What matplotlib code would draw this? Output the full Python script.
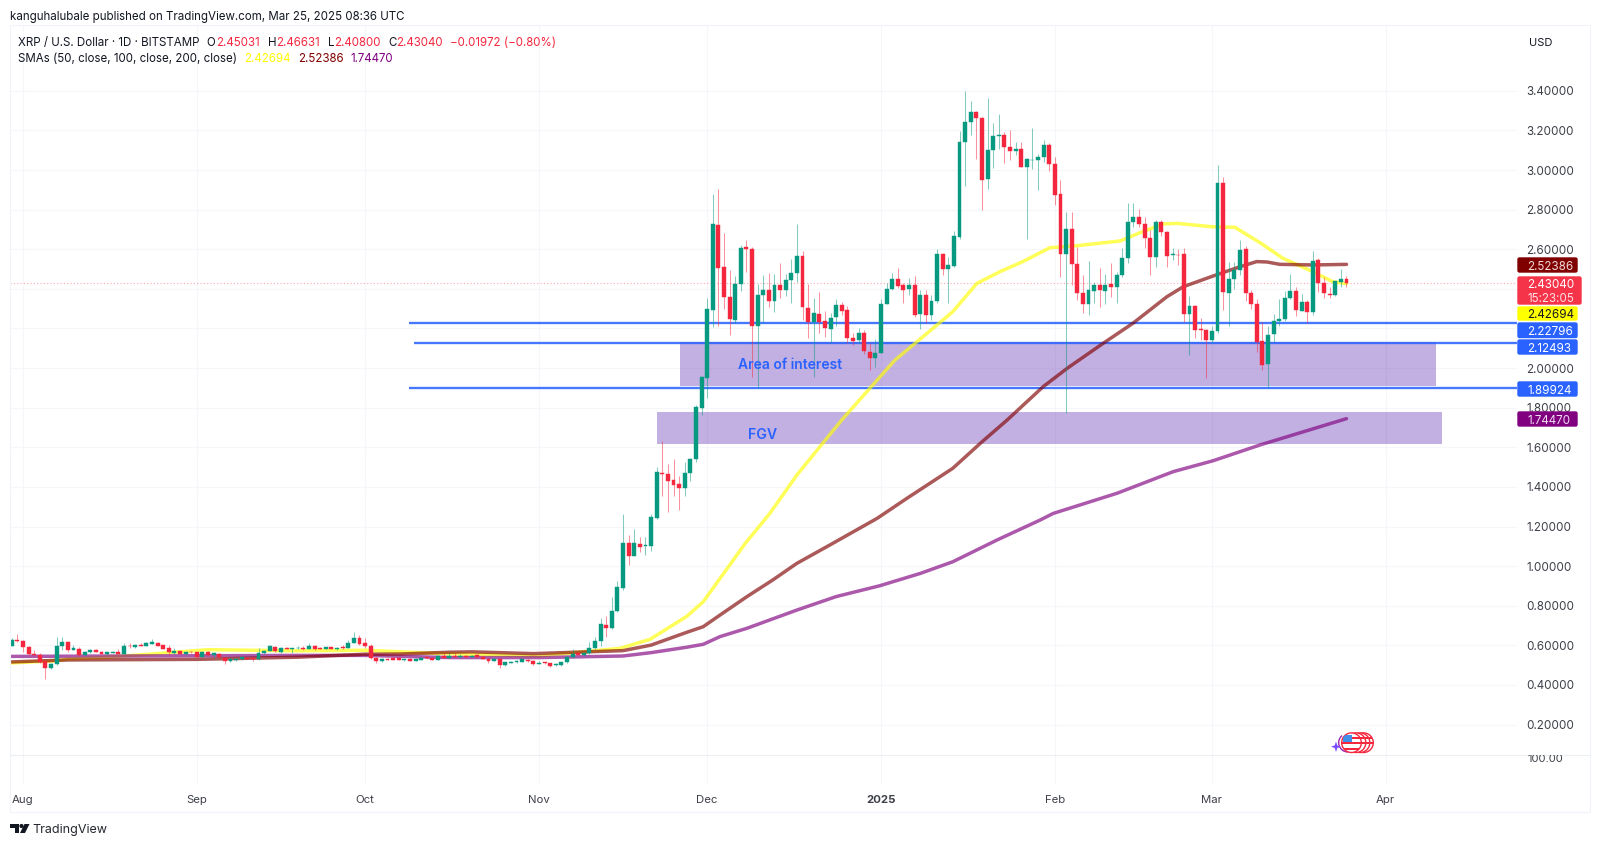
import matplotlib
matplotlib.use('Agg')
import matplotlib.pyplot as plt
import matplotlib.dates as mdates
from matplotlib.patches import Rectangle, Circle, Polygon, FancyBboxPatch, Wedge
import numpy as np
import pandas as pd

plt.rcParams['font.family'] = ['Inter', 'DejaVu Sans']

# daily candles, XRP / USD, first bar Jul 30 2024
first_day = '2024-07-30'
opens = [
    .598, .627, .623, .593, .556, .553, .522, .484, .504, .596,
    .617, .576, .581, .551, .565, .576, .568, .556, .563, .568,
    .558, .598, .590, .601, .596, .608, .612, .600, .585, .563,
    .570, .558, .568, .565, .543, .568, .551, .558, .538, .521,
    .526, .529, .538, .538, .529, .559, .573, .593, .568, .588,
    .583, .585, .588, .583, .596, .588, .581, .591, .581, .590,
    .586, .612, .639, .612, .595, .538, .519, .532, .534, .536,
    .526, .531, .522, .527, .539, .538, .527, .548, .538, .548,
    .541, .546, .543, .549, .543, .531, .522, .529, .499, .512,
    .514, .517, .527, .521, .507, .514, .509, .499, .500, .514,
    .539, .559, .549, .559, .585, .620, .704, .687, .771, .889,
    1.118, 1.051, 1.112, 1.100, 1.101, 1.244, 1.472, 1.467, 1.435, 1.413,
    1.394, 1.470, 1.541, 1.797, 1.952, 2.293, 2.723, 2.512, 2.359, 2.241,
    2.425, 2.612, 2.603, 2.213, 2.369, 2.396, 2.337, 2.418, 2.394, 2.445,
    2.482, 2.564, 2.304, 2.234, 2.273, 2.238, 2.196, 2.258, 2.319, 2.292,
    2.150, 2.140, 2.179, 2.083, 2.053, 2.078, 2.325, 2.398, 2.452, 2.418,
    2.398, 2.418, 2.271, 2.369, 2.270, 2.339, 2.575, 2.500, 2.517, 2.664,
    3.140, 3.241, 3.292, 3.262, 2.953, 3.100, 3.174, 3.179, 3.117, 3.095,
    3.105, 3.016, 3.049, 3.051, 3.068, 3.128, 3.031, 2.879, 2.576, 2.703,
    2.526, 2.378, 2.322, 2.391, 2.421, 2.391, 2.425, 2.411, 2.472, 2.556,
    2.736, 2.763, 2.728, 2.657, 2.560, 2.740, 2.687, 2.570, 2.573, 2.575,
    2.273, 2.315, 2.198, 2.192, 2.142, 2.189, 2.933, 2.381, 2.450, 2.495,
    2.600, 2.381, 2.324, 2.135, 2.019, 2.172, 2.236, 2.248, 2.354, 2.391,
    2.290, 2.334, 2.283, 2.546, 2.428, 2.374, 2.368, 2.435, 2.45031,
]
highs = [
    .637, .657, .627, .596, .576, .559, .526, .509, .644, .640,
    .623, .601, .590, .573, .581, .581, .573, .568, .573, .580,
    .610, .610, .605, .610, .617, .630, .615, .603, .601, .585,
    .573, .570, .571, .568, .570, .571, .568, .561, .543, .534,
    .534, .543, .541, .541, .588, .576, .601, .598, .593, .593,
    .588, .596, .595, .610, .603, .593, .593, .593, .593, .601,
    .627, .665, .652, .635, .607, .543, .536, .536, .538, .539,
    .538, .534, .536, .541, .543, .541, .551, .563, .559, .559,
    .554, .551, .553, .556, .546, .534, .534, .532, .517, .521,
    .524, .532, .531, .524, .521, .517, .512, .511, .518, .545,
    .580, .565, .563, .618, .640, .736, .748, .846, .925, 1.261,
    1.159, 1.186, 1.147, 1.149, 1.263, 1.502, 1.630, 1.516, 1.539, 1.455,
    1.524, 1.545, 1.814, 1.960, 2.352, 2.878, 2.905, 2.684, 2.495, 2.465,
    2.622, 2.647, 2.610, 2.425, 2.470, 2.482, 2.475, 2.530, 2.473, 2.549,
    2.726, 2.591, 2.425, 2.352, 2.383, 2.288, 2.277, 2.347, 2.336, 2.314,
    2.176, 2.201, 2.192, 2.125, 2.147, 2.347, 2.432, 2.479, 2.504, 2.428,
    2.453, 2.465, 2.394, 2.394, 2.367, 2.602, 2.580, 2.559, 2.694, 3.198,
    3.400, 3.349, 3.299, 3.270, 3.362, 3.240, 3.283, 3.191, 3.203, 3.144,
    3.144, 3.060, 3.211, 3.081, 3.152, 3.135, 3.068, 2.950, 2.787, 2.790,
    2.613, 2.470, 2.541, 2.437, 2.507, 2.474, 2.529, 2.487, 2.605, 2.836,
    2.832, 2.802, 2.765, 2.698, 2.748, 2.748, 2.694, 2.608, 2.600, 2.608,
    2.364, 2.319, 2.253, 2.196, 2.213, 3.026, 2.967, 2.534, 2.534, 2.647,
    2.617, 2.394, 2.347, 2.234, 2.213, 2.273, 2.347, 2.391, 2.475, 2.408,
    2.374, 2.344, 2.591, 2.554, 2.462, 2.411, 2.442, 2.500, 2.46631,
]
lows = [
    .596, .618, .568, .551, .546, .512, .430, .480, .500, .576,
    .566, .576, .546, .549, .563, .565, .556, .553, .559, .554,
    .556, .588, .588, .596, .595, .607, .596, .581, .551, .556,
    .554, .554, .559, .541, .539, .548, .538, .538, .504, .517,
    .522, .528, .529, .522, .526, .558, .570, .568, .563, .580,
    .559, .580, .576, .581, .576, .580, .580, .580, .575, .581,
    .585, .610, .601, .585, .531, .509, .516, .524, .526, .524,
    .522, .519, .521, .526, .532, .524, .526, .534, .536, .538,
    .538, .539, .539, .538, .529, .512, .521, .487, .497, .509,
    .512, .516, .516, .502, .504, .507, .489, .495, .497, .512,
    .537, .549, .547, .556, .582, .598, .640, .684, .769, .879,
    1.004, 1.049, 1.070, 1.056, 1.078, 1.240, 1.354, 1.273, 1.354, 1.283,
    1.352, 1.431, 1.524, 1.763, 1.847, 2.209, 2.213, 2.300, 2.167, 2.226,
    2.389, 2.487, 1.957, 1.898, 2.229, 2.310, 2.285, 2.352, 2.364, 2.330,
    2.436, 2.243, 2.150, 1.957, 2.176, 2.159, 2.125, 2.213, 2.268, 2.125,
    2.117, 2.125, 2.071, 1.990, 2.007, 2.075, 2.322, 2.394, 2.403, 2.327,
    2.369, 2.260, 2.197, 2.229, 2.243, 2.327, 2.468, 2.327, 2.512, 2.650,
    2.920, 3.177, 3.056, 2.799, 2.905, 3.012, 3.105, 3.038, 3.051, 3.076,
    3.014, 2.650, 3.004, 2.900, 3.043, 2.997, 2.824, 2.462, 1.772, 2.420,
    2.344, 2.277, 2.268, 2.327, 2.310, 2.324, 2.361, 2.327, 2.462, 2.533,
    2.714, 2.714, 2.605, 2.470, 2.512, 2.669, 2.509, 2.546, 2.521, 2.235,
    2.065, 2.150, 2.142, 1.948, 2.129, 2.176, 2.294, 2.213, 2.398, 2.470,
    2.341, 2.297, 2.083, 1.990, 1.898, 2.130, 2.213, 2.238, 2.351, 2.265,
    2.287, 2.226, 2.268, 2.386, 2.356, 2.356, 2.364, 2.411, 2.408,
]
closes = [
    .627, .622, .593, .556, .553, .517, .484, .506, .598, .617,
    .576, .585, .551, .568, .576, .566, .558, .565, .566, .556,
    .598, .595, .601, .598, .610, .615, .598, .583, .565, .571,
    .556, .566, .565, .543, .566, .551, .559, .541, .521, .529,
    .531, .539, .533, .531, .559, .573, .596, .570, .585, .583,
    .585, .588, .583, .598, .583, .583, .591, .581, .588, .586,
    .613, .639, .608, .595, .538, .519, .532, .527, .527, .527,
    .532, .522, .532, .538, .534, .527, .548, .538, .548, .541,
    .546, .543, .548, .543, .531, .522, .531, .500, .514, .517,
    .521, .529, .519, .505, .511, .511, .497, .507, .514, .541,
    .556, .553, .559, .588, .623, .706, .687, .773, .893, 1.118,
    1.051, 1.115, 1.098, 1.106, 1.246, 1.475, 1.467, 1.430, 1.410, 1.394,
    1.472, 1.543, 1.804, 1.953, 2.297, 2.726, 2.507, 2.361, 2.246, 2.425,
    2.608, 2.602, 2.214, 2.371, 2.394, 2.339, 2.421, 2.394, 2.445, 2.482,
    2.564, 2.310, 2.233, 2.277, 2.233, 2.201, 2.255, 2.319, 2.288, 2.150,
    2.138, 2.179, 2.086, 2.051, 2.076, 2.324, 2.398, 2.452, 2.415, 2.396,
    2.418, 2.266, 2.371, 2.270, 2.339, 2.575, 2.500, 2.521, 2.667, 3.140,
    3.243, 3.292, 3.262, 2.950, 3.102, 3.172, 3.178, 3.115, 3.097, 3.105,
    3.017, 3.055, 3.053, 3.066, 3.127, 3.031, 2.874, 2.576, 2.703, 2.524,
    2.378, 2.326, 2.396, 2.418, 2.394, 2.421, 2.411, 2.470, 2.556, 2.736,
    2.763, 2.728, 2.657, 2.560, 2.736, 2.687, 2.568, 2.575, 2.570, 2.273,
    2.315, 2.192, 2.194, 2.142, 2.189, 2.933, 2.384, 2.450, 2.495, 2.596,
    2.381, 2.324, 2.134, 2.016, 2.165, 2.236, 2.248, 2.354, 2.391, 2.293,
    2.336, 2.283, 2.541, 2.428, 2.378, 2.368, 2.438, 2.448, 2.43040,
]

# moving averages, days counted from Aug 1 2024
sma50_days = [-2, 6, 8, 14, 21.4, 33, 49, 61, 74, 92, 106.5, 111.8, 118.3, 121.3, 124.3, 128.8, 133.2,
              138, 142.1, 146, 151, 155.5, 159.4, 165.8, 170.1, 174.2, 178.3, 183.1, 187.9, 195.6,
              199.2, 203.3, 205.8, 212, 216.1, 220.6, 224.7, 230, 233.6, 236]
sma50_vals = [.511, .522, .531, .538, .553, .578, .572, .575, .559, .546, .585, .630, .745, .820, .938, 1.115, 1.267,
              1.460, 1.603, 1.738, 1.898, 2.041, 2.133, 2.285, 2.428, 2.487, 2.538, 2.608, 2.618, 2.642,
              2.684, 2.728, 2.731, 2.714, 2.711, 2.633, 2.554, 2.487, 2.436, 2.42694]
sma100_days = [-2, 8, 31, 49, 61, 67.4, 76, 80, 91, 107, 112, 118.3, 121.3, 124.3, 129.1, 133.7, 138, 143.9,
               152.3, 157.6, 165.8, 170.7, 175.5, 181.9, 186.2, 192.6, 197.9, 204, 206.9, 212.2, 217, 220,
               221.8, 224.1, 230, 236]
sma100_vals = [.516, .526, .529, .540, .555, .556, .565, .567, .558, .573, .601, .665, .694, .753, .846, .930, 1.014, 1.107,
               1.241, 1.342, 1.494, 1.620, 1.738, 1.906, 1.999, 2.125, 2.226, 2.361, 2.411, 2.465, 2.512, 2.538,
               2.536, 2.524, 2.521, 2.52386]
sma200_days = [-2, 49, 61, 76, 92, 107, 112, 118.3, 121.3, 124.3, 129.1, 138, 145, 152.8, 160, 165.8, 173.7, 181.4,
               183.7, 195.1, 205.1, 212.2, 220.6, 236]
sma200_vals = [.544, .549, .549, .538, .538, .546, .563, .590, .605, .644, .686, .778, .846, .901, .963, 1.022, 1.132, 1.233,
               1.266, 1.368, 1.477, 1.532, 1.612, 1.74470]

# levels and zones drawn on the chart
levels = [2.22796, 2.12493, 1.89924]
level_starts = ['2024-10-08 18:00', '2024-10-09 18:00', '2024-10-08 18:00']
area_zone = ['2024-11-26 05:00', '2025-04-10 00:00', 1.911, 2.134]
fgv_zone = ['2024-11-22 03:00', '2025-04-11 00:00', 1.617, 1.778]

last_price = 2.43040
sma_last = [2.42694, 2.52386, 1.74470]
price_ticks = [0.2, 0.4, 0.6, 0.8, 1.0, 1.2, 1.4, 1.6, 1.8, 2.0, 2.2, 2.4, 2.6, 2.8, 3.0, 3.2, 3.4]
month_dates = ['2024-08-01', '2024-09-01', '2024-10-01', '2024-11-01', '2024-12-01',
               '2025-01-01', '2025-02-01', '2025-03-01', '2025-04-01']
month_labels = ['Aug', 'Sep', 'Oct', 'Nov', 'Dec', '2025', 'Feb', 'Mar', 'Apr']

UP = '#089981'
DOWN = '#f5273e'
BLUE = '#2962ff'
ZONE = '#673ab7'
GRID = '#f5f6fa'
TEXT = '#131722'
AXIS_TEXT = '#3d4048'


def num(when):
    return mdates.date2num(pd.Timestamp(when))


def from_aug1(days):
    return num('2024-08-01') + np.asarray(days, dtype=float)


fig = plt.figure(figsize=(16, 8.46), dpi=100, facecolor='white')

# main price pane spans pixel rows 25-755, lower pane 755-785
ax = fig.add_axes([10 / 1600, 1 - 755 / 846, 1507 / 1600, 730 / 846], facecolor='none')
low_ax = fig.add_axes([10 / 1600, 1 - 785 / 846, 1507 / 1600, 30 / 846], facecolor='none')

x_left = from_aug1((10 - 23) / 5.608)
x_right = from_aug1((1517 - 23) / 5.608)
ax.set_xlim(x_left, x_right)
low_ax.set_xlim(x_left, x_right)
ax.set_ylim(1.6 + (447.3 - 755) / 198, 1.6 + (447.3 - 25) / 198)
low_ax.set_yticks([])

for a in (ax, low_ax):
    for spine in a.spines.values():
        spine.set_visible(False)
    a.set_axisbelow(True)
    a.grid(True, axis='x', color=GRID, linewidth=0.8)

ax.grid(True, axis='y', color=GRID, linewidth=0.8)
ax.yaxis.tick_right()
ax.set_yticks(price_ticks)
# 2.2 and 2.4 sit behind the price badges
ax.set_yticklabels(['' if p in (2.2, 2.4) else '%.5f' % p for p in price_ticks])
ax.tick_params(axis='y', length=0, pad=6.6, labelsize=8.4, labelcolor=AXIS_TEXT)
ax.set_xticks([num(m) for m in month_dates])
ax.tick_params(axis='x', length=0, labelbottom=False)

low_ax.set_xticks([num(m) for m in month_dates])
low_ax.set_xticklabels(month_labels)
low_ax.tick_params(axis='x', length=0, pad=7, labelsize=8.2, labelcolor=AXIS_TEXT)
for lab in low_ax.get_xticklabels():
    if lab.get_text() == '2025':
        lab.set_fontweight('bold')

# zones sit under everything else
for zone in (area_zone, fgv_zone):
    x0, x1 = num(zone[0]), num(zone[1])
    ax.add_patch(Rectangle((x0, zone[2]), x1 - x0, zone[3] - zone[2], facecolor=ZONE, alpha=0.4,
                           edgecolor='none', zorder=2))

ax.axhline(last_price, color=DOWN, linewidth=0.8, linestyle=(0, (1, 2)), alpha=0.4, zorder=2.2)
for level, start in zip(levels, level_starts):
    ax.plot([num(start), x_right], [level, level], color=BLUE, linewidth=2.6, alpha=0.18, zorder=2.5,
            solid_capstyle='butt')
    ax.plot([num(start), x_right], [level, level], color=BLUE, linewidth=1.2, zorder=2.6,
            solid_capstyle='butt')

ax.plot(from_aug1(sma50_days), sma50_vals, color='#ffff00', linewidth=2.5, alpha=0.65, zorder=3,
        solid_capstyle='round')
ax.plot(from_aug1(sma200_days), sma200_vals, color='#800080', linewidth=2.5, alpha=0.65, zorder=3.1,
        solid_capstyle='round')
ax.plot(from_aug1(sma100_days), sma100_vals, color='#800000', linewidth=2.5, alpha=0.65, zorder=3.2,
        solid_capstyle='round')

# candles
dates = mdates.date2num(pd.date_range(first_day, periods=len(closes)))
o = np.array(opens)
h = np.array(highs)
l = np.array(lows)
c = np.array(closes)
colors = np.where(c >= o, UP, DOWN)
ax.vlines(dates, l, h, colors=colors, linewidth=0.75, alpha=0.5, zorder=4)
ax.bar(dates, np.abs(c - o), bottom=np.minimum(o, c), width=0.7, color=colors, edgecolor=colors,
       linewidth=0.3, zorder=4.5)

ax.text(num('2024-12-15 20:00'), 2.017, 'Area of interest', color=BLUE, fontsize=10, fontweight='semibold',
        ha='center', va='center', zorder=5)
ax.text(num('2024-12-10 20:00'), 1.662, 'FGV', color=BLUE, fontsize=10.2, fontweight='semibold',
        ha='center', va='center', zorder=5)

# everything around the panes is placed in pixels on a full-figure overlay
over = fig.add_axes([0, 0, 1, 1], facecolor='none', zorder=5)
over.set_xlim(0, 1600)
over.set_ylim(846, 0)
over.axis('off')

over.add_patch(Rectangle((10, 25), 1580, 787, fill=False, edgecolor='#f0f3fa', linewidth=0.8))
over.plot([10, 1590], [755, 755], color='#eceef3', linewidth=0.8)


def badge(y0, y1, color, label, text_color='white', x1=1578):
    over.add_patch(FancyBboxPatch((1518, y0 + 1), x1 - 1519, y1 - y0 - 2, boxstyle='round,pad=0,rounding_size=1.5',
                                  facecolor=color, edgecolor=color, linewidth=1))
    if label:
        over.text(1527, (y0 + y1) / 2, label, color=text_color, fontsize=8.4, va='center_baseline', ha='left')


badge(257, 273, '#800000', '%.5f' % sma_last[1], '#f0dcdc')
badge(276, 305, '#f5344a', '', x1=1582)
over.text(1527, 283.5, '%.5f' % last_price, color='white', fontsize=8.4, va='center_baseline')
over.text(1527, 297, '15:23:05', color='#ffe0e3', fontsize=8.4, va='center_baseline')
badge(306, 321, '#ffff00', '%.5f' % sma_last[0], TEXT)
badge(322, 338.5, BLUE, '%.5f' % levels[0])
badge(339, 355, BLUE, '%.5f' % levels[1])
badge(381, 397, BLUE, '%.5f' % levels[2])
badge(411, 427, '#800080', '%.5f' % sma_last[2], '#f0dcf0')

clip_top = Rectangle((1520, 755), 70, 30, transform=over.transData)
t = over.text(1527, 757.7, '100.00', color=AXIS_TEXT, fontsize=8.0, va='center_baseline', clip_on=True)
t.set_clip_path(clip_top)

over.text(1541, 42, 'USD', color=TEXT, fontsize=8.0, ha='center', va='center_baseline')

# header and legend rows
over.text(10.2, 15.5, 'kanguhalubale published on TradingView.com, Mar 25, 2025 08:36 UTC', color=TEXT,
          fontsize=8.3, va='center_baseline')

row1 = 41.5
legend_size = 8.3
over.text(18, row1, 'XRP / U.S. Dollar · 1D · BITSTAMP', color=TEXT, fontsize=legend_size, va='center_baseline')
for x_label, x_val, letter, val in [(206.7, 216.2, 'O', opens[-1]), (267.9, 276.3, 'H', highs[-1]),
                                    (327.6, 334, 'L', lows[-1]), (388, 396, 'C', closes[-1])]:
    over.text(x_label, row1, letter, color=TEXT, fontsize=legend_size, va='center_baseline')
    over.text(x_val, row1, '%.5f' % val, color=DOWN, fontsize=legend_size, va='center_baseline')
over.text(449.7, row1, '\u22120.01972 (\u22120.80%)', color=DOWN, fontsize=legend_size, va='center_baseline')

row2 = 58
over.text(18, row2, 'SMAs (50, close, 100, close, 200, close)', color=TEXT, fontsize=legend_size, va='center_baseline')
for x_val, val, col in [(244, sma_last[0], '#ffff00'), (297.7, sma_last[1], '#800000'),
                        (350.5, sma_last[2], '#800080')]:
    over.text(x_val, row2, '%.5f' % val, color=col, fontsize=legend_size, va='center_baseline')

# logo at the bottom
over.add_patch(Polygon([(10, 824), (19, 824), (19, 833), (14.5, 833), (14.5, 828.5), (10, 828.5)], color='#131722', lw=0))
over.add_patch(Circle((21.5, 826), 2.1, color='#131722', lw=0))
over.add_patch(Polygon([(24.5, 824), (29.5, 824), (25, 833), (20, 833)], color='#131722', lw=0))
over.text(32.5, 829, 'TradingView', color='#24272f', fontsize=9.0, va='center_baseline')

# economic event bubbles near the latest bars
over.add_patch(Wedge((1348, 742.7), 10, 90, 230, width=1.4, color='#9c27b0', lw=0))
for cx in (1363.5, 1360, 1356):
    over.add_patch(Circle((cx, 742.7), 9.8, facecolor='white', edgecolor='#f5273e', linewidth=1))
    over.add_patch(Rectangle((cx + 3, 737), 5, 2.5, color='#f5273e', lw=0))
    over.add_patch(Rectangle((cx + 3, 742), 6, 2.5, color='#f5273e', lw=0))
face = Circle((1351.5, 742.7), 9.8, facecolor='white', edgecolor='#f5273e', linewidth=1)
over.add_patch(face)
for y_band in (737, 742, 748):
    band = Rectangle((1341, y_band), 21, 2.4, color='#f5273e', lw=0)
    over.add_patch(band)
    band.set_clip_path(face)
canton = Rectangle((1343, 735), 9, 7, color='#3f8ee8', lw=0)
over.add_patch(canton)
canton.set_clip_path(face)
over.add_patch(Polygon([(1336, 741.5), (1337.3, 745.4), (1341, 746.7), (1337.3, 748), (1336, 752),
                        (1334.7, 748), (1331, 746.7), (1334.7, 745.4)], color='#7c4dff', lw=0))

fig.savefig('out.png', dpi=100)
